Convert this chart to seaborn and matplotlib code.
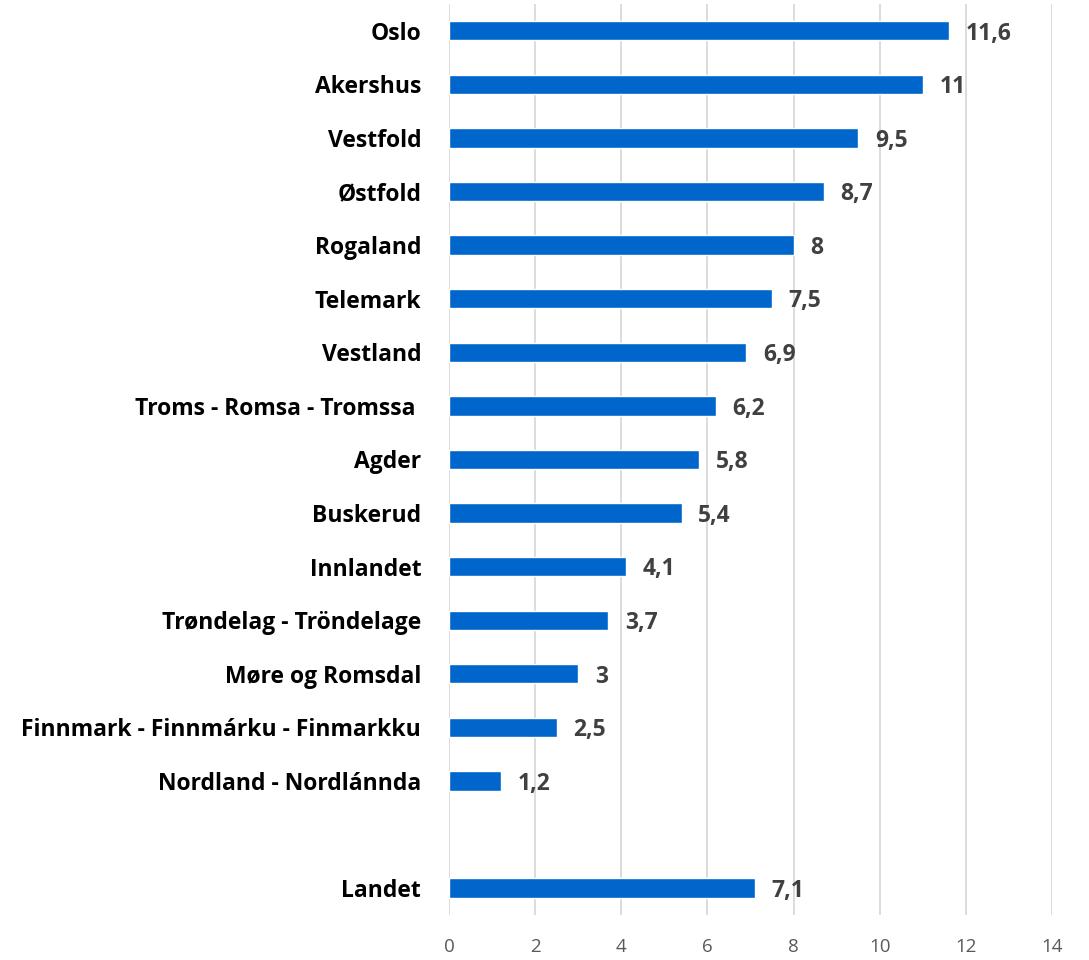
import matplotlib
matplotlib.use("Agg")
import matplotlib.pyplot as plt
import seaborn as sns
import pandas as pd

# Regions and values (share, %)
regions = ["Oslo", "Akershus", "Vestfold", "Østfold", "Rogaland", "Telemark",
           "Vestland", "Troms - Romsa - Tromssa ", "Agder", "Buskerud",
           "Innlandet", "Trøndelag - Tröndelage", "Møre og Romsdal",
           "Finnmark - Finnmárku - Finmarkku", "Nordland - Nordlánnda", "Landet"]
values = [11.6, 11, 9.5, 8.7, 8, 7.5, 6.9, 6.2, 5.8, 5.4, 4.1, 3.7, 3, 2.5, 1.2, 7.1]

# empty slot between the counties and the national figure
order = regions[:-1] + [" "] + regions[-1:]

df = pd.DataFrame({"region": regions, "value": values})

sns.set_style("white")
plt.rcParams["font.family"] = ["Open Sans", "DejaVu Sans"]

fig = plt.figure(figsize=(10.89, 9.6), dpi=100)
ax = fig.add_axes([0.4123, 0.047, 0.5537, 0.9488])

sns.barplot(data=df, x="value", y="region", order=order, orient="h",
            color="#0066CC", saturation=1, width=0.36, ax=ax)

ax.set_xlim(0, 14)
ax.set_ylim(16.5, -0.5)
ax.set_xticks(range(0, 15, 2))
ax.grid(axis="x", color="#D9D9D9", linewidth=1.3)
ax.set_axisbelow(True)
for s in ax.spines.values():
    s.set_visible(False)

ax.tick_params(axis="x", length=0, pad=17, labelsize=13.5, labelcolor="#595959")
ax.tick_params(axis="y", length=0, pad=20)
for lbl in ax.get_yticklabels():
    lbl.set_fontsize(16.5)
    lbl.set_fontweight("bold")
    lbl.set_color("black")

ax.set_xlabel("")
ax.set_ylabel("")

# value labels, comma as decimal separator
labels = [f"{v:g}".replace(".", ",") for v in values]
bars = ax.containers[0]
for rect, txt in zip(bars, labels):
    ax.annotate(txt, (rect.get_width(), rect.get_y() + rect.get_height() / 2),
                xytext=(12, -2), textcoords="offset points",
                ha="left", va="center", fontsize=16.5, fontweight="bold",
                color="#404040")

fig.savefig("out.png", dpi=100)
